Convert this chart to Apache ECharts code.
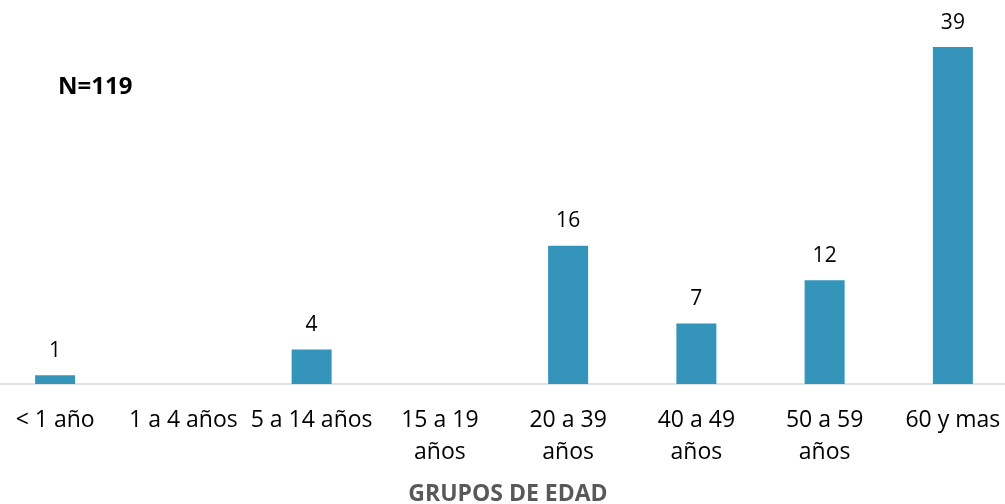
<!DOCTYPE html>
<html>
<head>
<meta charset="utf-8">
<script src="https://cdn.jsdelivr.net/npm/echarts@6/dist/echarts.min.js"></script>
<style>
  html, body { margin: 0; padding: 0; background: #ffffff; overflow: hidden; width: 1005px; height: 504px; }
  /* the plot runs a little past both edges of the picture */
  #chart { position: absolute; left: -9px; top: 0; width: 1026px; height: 504px; }
</style>
</head>
<body>
<div id="chart"></div>
<script>
// grupos de edad y casos
var categorias = ['< 1 año', '1 a 4 años', '5 a 14 años', '15 a 19\naños', '20 a 39\naños', '40 a 49\naños', '50 a 59\naños', '60 y mas'];
var casos = [1, 0, 4, 0, 16, 7, 12, 39];
var totalTexto = 'N=119';
var tituloEje = 'GRUPOS DE EDAD';

var fuente = '"Open Sans", sans-serif';
var myChart = echarts.init(document.getElementById('chart'));

var option = {
    backgroundColor: '#ffffff',
    animation: false,
    grid: {
        left: 0,
        right: 0,
        top: 38.4,
        bottom: 120
    },
    title: [
        {
            text: totalTexto,
            left: 62,
            top: 70,
            textStyle: { fontFamily: fuente, fontSize: 24, fontWeight: 'bold', color: '#000000' }
        },
        {
            text: tituloEje,
            left: 512,
            textAlign: 'center',
            top: 478,
            textStyle: { fontFamily: fuente, fontSize: 23, fontWeight: 'bold', color: '#595959' }
        }
    ],
    xAxis: {
        type: 'category',
        data: categorias,
        axisLine: { show: true, lineStyle: { color: '#d9d9d9', width: 1.5 } },
        axisTick: { show: false },
        axisLabel: {
            interval: 0,
            margin: 20,
            fontFamily: fuente,
            fontSize: 23,
            lineHeight: 32,
            color: '#000000'
        }
    },
    yAxis: {
        type: 'value',
        min: 0,
        max: 40,
        show: false,
        splitLine: { show: false }
    },
    series: [
        {
            name: 'Casos',
            type: 'bar',
            data: casos.map(function (v) { return v === 0 ? null : v; }),
            barWidth: 40,
            itemStyle: { color: '#3494ba' },
            label: {
                show: true,
                position: 'top',
                distance: 14,
                fontFamily: fuente,
                fontSize: 21,
                color: '#000000'
            }
        }
    ]
};

myChart.setOption(option);
</script>
</body>
</html>
